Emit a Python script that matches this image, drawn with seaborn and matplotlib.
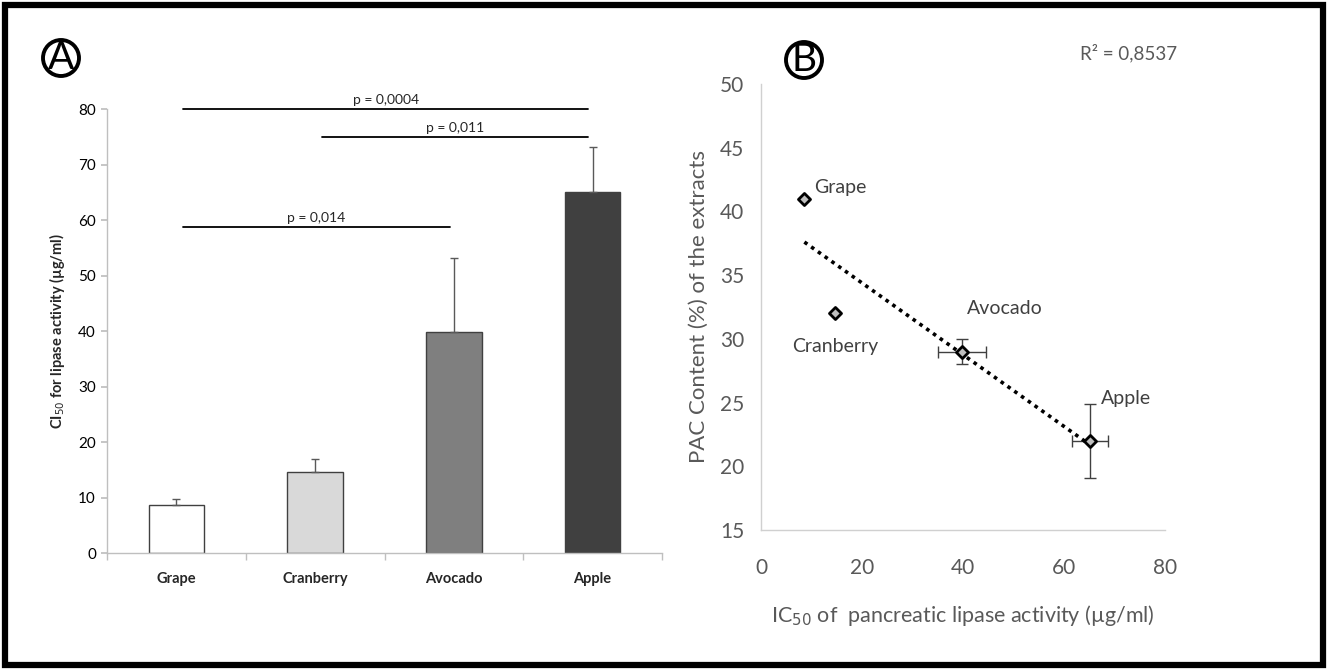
import numpy as np
import pandas as pd
import matplotlib
matplotlib.use("Agg")
import matplotlib.pyplot as plt
from matplotlib.patches import Rectangle
import seaborn as sns

sns.set_theme(style="white")
plt.rcParams['font.family'] = ['Lato', 'DejaVu Sans']

# Panel A: IC50 for lipase activity per extract
fruits = ["Grape", "Cranberry", "Avocado", "Apple"]
ic50 = [8.6, 14.6, 39.8, 65.1]
ic50_err = [1.1, 2.3, 13.4, 8.1]
bar_colors = ["#ffffff", "#d9d9d9", "#7f7f7f", "#404040"]

# pairwise comparisons: (from, to, bar height, label)
comparisons = [
    ("Grape", "Apple", 80.0, "p = 0,0004"),
    ("Cranberry", "Apple", 75.0, "p = 0,011"),
    ("Grape", "Avocado", 58.7, "p = 0,014"),
]

# Panel B: PAC content vs IC50
pac = [41.0, 32.0, 29.0, 22.0]
pac_err = [0.0, 0.0, 1.0, 2.9]
ic50_xerr = [0.0, 0.0, 4.8, 3.6]
label_pos_x = [10.5, 6.2, 40.8, 67.3]
label_pos_y = [41.9, 29.4, 32.4, 25.3]

fig = plt.figure(figsize=(13.28, 6.70), dpi=100)
fig.patch.set_facecolor("white")

# ---------------- Panel A ----------------
axA = fig.add_axes([0.0806, 0.1746, 0.4179, 0.6627])
dfA = pd.DataFrame({"fruit": fruits, "ic50": ic50})
sns.barplot(data=dfA, x="fruit", y="ic50", hue="fruit", palette=bar_colors,
            width=0.4, edgecolor="#404040", linewidth=1.0, legend=False, ax=axA)
axA.errorbar(np.arange(len(fruits)), ic50, yerr=[np.zeros(len(fruits)), ic50_err],
             fmt="none", ecolor="#595959", elinewidth=1.0, capsize=3, capthick=1.0)
axA.set_xlim(-0.5, 3.5)
axA.set_ylim(0, 80)
axA.set_yticks(np.arange(0, 81, 10))
axA.tick_params(axis="y", which="major", length=4, color="#bfbfbf", labelsize=11,
                labelcolor="#000000", left=True, direction="out", pad=4)
axA.set_xticks(range(len(fruits)))
axA.set_xticklabels(fruits, fontweight="bold", fontsize=10.5)
axA.tick_params(axis="x", which="major", length=0, pad=14)
axA.set_xticks(np.arange(-0.5, 4.0, 1.0), minor=True)
axA.tick_params(axis="x", which="minor", length=5, color="#bfbfbf", bottom=True,
                direction="out")
for s in ["top", "right"]:
    axA.spines[s].set_visible(False)
for s in ["left", "bottom"]:
    axA.spines[s].set_color("#bfbfbf")
    axA.spines[s].set_linewidth(1.0)
axA.set_xlabel("")
axA.set_ylabel("CI$_{50}$ for lipase activity (µg/ml)", fontsize=10.5, fontweight="bold",
               labelpad=8)

idx = {f: i for i, f in enumerate(fruits)}
for a, b, h, txt in comparisons:
    x0, x1 = idx[a] + 0.05, idx[b] - 0.03
    axA.plot([x0, x1], [h, h], color="black", lw=1.3, clip_on=False)
    axA.text((x0 + x1) / 2, h + 0.5, txt, ha="center", va="bottom", fontsize=10)

# ---------------- Panel B ----------------
axB = fig.add_axes([0.573, 0.209, 0.3043, 0.6657])
dfB = pd.DataFrame({"ic50": ic50, "pac": pac, "fruit": fruits})
axB.errorbar(ic50, pac, xerr=ic50_xerr, yerr=pac_err, fmt="none", ecolor="#404040",
             elinewidth=1.0, capsize=4, capthick=1.0, zorder=2)
sns.scatterplot(data=dfB, x="ic50", y="pac", marker="D", s=38, color="#bfbfbf",
                edgecolor="black", linewidth=2.0, ax=axB, zorder=4)

slope, intercept = np.polyfit(ic50, pac, 1)
xs = np.array([min(ic50), max(ic50)])
axB.plot(xs, slope * xs + intercept, linestyle=(0, (1, 1.3)), color="black", lw=2.6,
         zorder=3)

for name, lx, ly in zip(fruits, label_pos_x, label_pos_y):
    axB.text(lx, ly, name, ha="left", va="center", fontsize=14, color="#404040")

axB.set_xlim(0, 80)
axB.set_ylim(15, 50)
axB.set_xticks(np.arange(0, 81, 20))
axB.set_yticks(np.arange(15, 51, 5))
axB.tick_params(axis="both", length=0, labelsize=15, labelcolor="#595959")
axB.tick_params(axis="x", pad=20)
axB.tick_params(axis="y", pad=12)
for s in ["top", "right"]:
    axB.spines[s].set_visible(False)
for s in ["left", "bottom"]:
    axB.spines[s].set_color("#d0d0d0")
    axB.spines[s].set_linewidth(1.0)
axB.set_xlabel("IC$_{50}$ of  pancreatic lipase activity (µg/ml)", fontsize=15.5,
               color="#595959", labelpad=18)
axB.set_ylabel("PAC Content (%) of the extracts", fontsize=16, color="#595959",
               labelpad=8)

fig.text(1080 / 1328, 1 - 53 / 670, "R² = 0,8537", fontsize=13.5, color="#595959",
         ha="left", va="center")

# circled panel letters
for cx, cy, letter in [(61, 58, "A"), (804, 60, "B")]:
    fig.text(cx / 1328, 1 - cy / 670, letter, fontsize=28, ha="center", va="center",
             color="black",
             bbox=dict(boxstyle="circle,pad=0.0", fc="white", ec="black", lw=2.8))

# outer frame
fig.patches.append(Rectangle((0.004, 0.007), 0.992, 0.986, transform=fig.transFigure,
                             fill=False, ec="black", lw=4.5))

fig.savefig("out.png", dpi=100)
